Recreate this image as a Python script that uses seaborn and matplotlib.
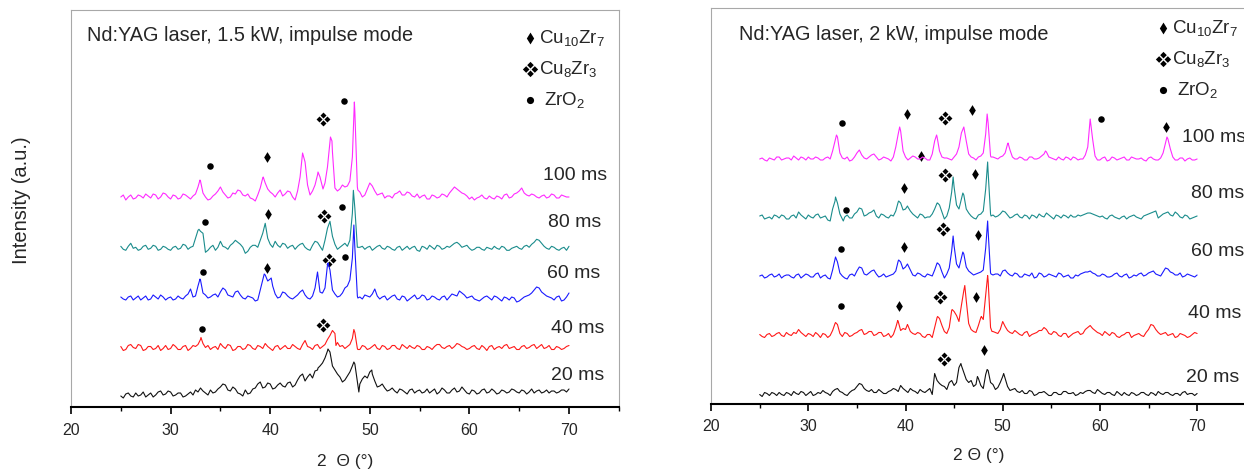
# -*- coding: utf-8 -*-
# XRD patterns of Cu-Zr welds, Nd:YAG laser in impulse mode (1.5 kW / 2 kW)
import numpy as np
import matplotlib.pyplot as plt
import seaborn as sns
from matplotlib.path import Path

sns.set_theme(style="white")
plt.rcParams["font.family"] = ["Liberation Sans", "DejaVu Sans"]
plt.rcParams["mathtext.default"] = "regular"

# ---------------------------------------------------------------
# data (a.u. above each pattern's baseline)
#   *_g   : samples at 25.0, 25.5, ..., 70.0
#   *_m   : samples at 25.25, 25.75, ..., 69.75
#   *_px/py : extra samples on sharp peaks
# ---------------------------------------------------------------
grid_x = np.arange(25.0, 70.01, 0.5)
mid_x = np.arange(25.25, 69.8, 0.5)
pulse_labels = ["20 ms", "40 ms", "60 ms", "80 ms", "100 ms"]

# ---- 1.5 kW ----
l20_g = [0, 2, 0, 3, 1, -1, 3, 1, 5, 2,
         4, 1, 3, 0, 4, 6, 8, 3, 6, 4,
         9, 11, 5, 7, 2, 6, 3, 8, 14, 9,
         12, 8, 13, 9, 14, 11, 20, 15, 22, 25,
         30, 38, 44, 26, 19, 16, 24, 32, 12, 20,
         24, 15, 10, 8, 6, 5, 7, 4, 6, 3,
         6, 4, 3, 7, 4, 6, 3, 8, 5, 6,
         2, 5, 3, 7, 4, 5, 3, 5, 4, 6,
         3, 5, 4, 3, 6, 4, 3, 5, 4, 6,
         7]
l20_m = [-2, 3, -1, 0, 4, 1, -1, 4, 1, 5,
         0, 3, -1, 2, 1, 4, 5, 1, 3, 7,
         12, 6, 9, 3, 0, 2, 7, 12, 8, 13,
         7, 11, 10, 13, 9, 16, 22, 19, 18, 26,
         33, 45, 30, 22, 14, 20, 30, 14, 17, 18,
         22, 9, 12, 5, 8, 3, 6, 2, 7, 5,
         3, 7, 5, 2, 8, 3, 6, 4, 9, 3,
         6, 2, 6, 3, 7, 2, 6, 3, 7, 4,
         6, 2, 7, 5, 3, 6, 5, 3, 6, 4]
l20_px = [44.8, 45.8, 48.4, 48.9, 50.2]
l20_py = [28, 47, 34, 4, 26]

l40_g = [1, -2, 3, -1, 2, -2, 1, -1, -3, 2,
         -1, 1, -2, 2, -1, 1, 8, 0, -2, 1,
         4, -1, 2, -2, 1, -1, 2, -2, 1, 4,
         -1, 1, -2, 2, -1, 1, -2, 7, 0, 2,
         -1, 3, 12, 14, 1, -1, 3, 15, -2, 1,
         -1, 3, -2, 1, -1, 2, -2, 1, 2, -1,
         1, -2, 0, 1, 3, -1, 2, 1, 3, 0,
         -1, 2, -2, 0, 1, -2, 1, 2, -1, 1,
         -2, 2, 0, 3, 1, -1, 2, -2, 0, -1,
         2]
l40_m = [-3, 2, 0, 3, -3, 1, -2, 2, -1, -2,
         3, -2, 1, -3, 2, 3, 4, 2, 0, -2,
         1, 3, -3, 1, -2, 3, -1, 2, -1, 1,
         -3, 2, 0, -1, 3, -1, 3, 1, -2, 3,
         1, 8, 17, 5, 2, 1, 9, -1, 2, -2,
         1, -1, 2, -2, 2, -1, 3, -1, 0, 2,
         -2, 1, -2, 3, 0, 1, -1, 4, 1, -2,
         1, -1, 2, -3, 2, 0, -1, 3, 0, -2,
         1, -1, 2, -1, 3, 0, -2, 1, -2, 1]
l40_px = [33.05, 46.6, 48.4, 48.8]
l40_py = [10, 2, 18, -2]

l60_g = [1, -2, 2, 0, -2, 2, -1, 1, 3, -2,
         1, -1, 0, 2, 9, 2, 18, 3, 1, 4,
         6, 8, 2, 6, 3, -1, 1, -3, 8, 23,
         19, 4, 1, 5, 0, 1, 6, 3, -1, 10,
         6, 10, 28, 4, 2, 10, 18, 50, 1, 3,
         1, 9, -1, 2, 0, 3, -2, 1, -1, 3,
         0, 2, -1, 1, -2, 2, 1, 3, 7, 3,
         1, -1, -3, 1, 0, 2, -1, 1, -2, 0,
         -3, 1, 3, 8, 10, 4, 1, -2, 2, -2,
         5]
l60_m = [-1, 1, -2, 2, 0, -2, 3, -1, 1, 0,
         -2, 2, -1, 4, 1, 12, 5, 0, 3, 1,
         10, 3, 1, 7, 0, 2, 0, -2, 18, 17,
         12, 0, 6, 2, -1, 3, 8, 0, 2, 26,
         5, 33, 8, 1, 5, 12, 40, 2, -1, 2,
         4, 2, 1, -2, 2, -1, 2, -3, 1, -1,
         3, -2, 2, -1, 1, -2, 4, 2, 5, 0,
         2, -2, -1, 2, -2, 1, -3, 0, 1, -4,
         -1, 2, 5, 11, 6, 2, 0, 1, -3, 1]
l60_px = [32.95, 39.4, 40.1, 45.2, 45.8, 48.4, 48.8]
l60_py = [19, 24, 20, 5, 35, 73, 0]

l80_g = [2, -2, 5, 1, -1, 3, 0, 2, -1, 1,
         -2, 2, 0, 3, 1, 10, 17, -4, 1, -2,
         7, 1, 3, 8, 4, -5, 1, 3, 8, 25,
         4, 7, 1, 4, 2, -1, 4, 1, -2, 7,
         2, 8, 27, 4, 1, 5, 8, 40, 1, -1,
         2, 0, 3, -1, 1, -2, 2, 0, -1, 2,
         -3, 1, 3, -1, 2, 0, 1, 5, 4, 2,
         0, -1, 1, -2, 0, 2, -1, 1, -2, 1,
         0, 2, 1, 6, 8, 2, -1, 1, -2, 1,
         2]
l80_m = [-1, 2, 0, -2, 2, -1, 3, -2, 2, -1,
         1, -1, 4, -1, 2, 18, 15, -2, 3, 1,
         2, -1, 5, 6, 1, -3, 3, 1, 15, 10,
         1, 3, 5, 0, 3, 2, 5, -1, 3, 6,
         -2, 20, 12, -1, 3, 2, 35, 1, 2, 1,
         -2, 2, 0, 2, -1, 1, -2, 2, 1, -2,
         2, -1, 1, 3, -1, 2, 3, 6, 1, 3,
         -2, 1, -1, 1, -1, 0, 2, -2, 0, 2,
         -1, 3, 4, 9, 5, 0, 2, -1, 0, -2]
l80_px = [32.85, 48.35]
l80_py = [19, 58]

l100_g = [0, -3, 2, -1, 1, 3, -1, 2, 0, 3,
          -2, 1, -1, 2, -2, 3, 16, 0, -2, 3,
          10, 2, 0, 3, 6, 1, -1, -4, 9, 14,
          5, 0, 7, 3, 5, -3, 20, 35, 2, 12,
          20, 14, 55, 9, 8, 10, 16, 85, 5, 2,
          14, 6, 3, -1, 1, 3, 6, 2, 4, 0,
          -1, 2, -2, 1, 0, 2, 4, 10, 6, 3,
          -2, -3, 0, -1, 1, -2, 0, 2, -1, 3,
          6, 4, 1, 2, -1, 2, 0, 2, -1, 1,
          0]
l100_m = [2, 0, -2, 2, -1, 1, 3, -2, 4, 0,
          2, -2, 3, 0, 1, 10, 4, -3, 1, 6,
          5, -1, 4, 7, 2, 3, -2, 2, 19, 8,
          3, 4, 1, 6, 0, 6, 44, 12, 6, 22,
          10, 30, 45, 6, 12, 11, 40, 10, 0, 8,
          11, 2, 4, 1, -1, 4, 2, 5, 1, 3,
          1, -2, 2, -1, 3, 0, 7, 8, 4, 1,
          0, -1, 2, -2, -1, 1, -2, 3, 0, 4,
          9, 2, 3, 0, 1, -1, 3, -1, 2, 0]
l100_px = [32.95, 39.3, 44.8, 45.3, 46.05, 46.2, 48.45, 48.8]
l100_py = [17, 20, 25, 8, 60, 56, 95, 7]

# ---- 2 kW ----
r20_g = [0, 2, -1, 1, 2, -1, 1, 3, 0, 2,
         1, -1, 2, 4, 1, 3, 6, 2, -1, 4,
         8, 10, 4, 5, 2, 3, 1, 4, 5, 9,
         4, 6, 3, 5, 2, 6, 21, 11, 8, 12,
         9, 27, 22, 12, 8, 16, 6, 24, 10, 7,
         18, 8, 5, 3, 4, 1, 3, 0, 2, 1,
         -1, 2, 0, 3, 1, -1, 2, 3, 4, 1,
         3, 0, 2, -1, 1, 2, -1, 1, 0, 2,
         -1, 1, 3, 0, 2, -1, 1, 2, 0, 1,
         1]
r20_m = [-2, 1, 2, -1, 0, 2, -1, 1, 3, -1,
         3, 0, 1, 2, -1, 5, 3, 0, 2, 5,
         11, 6, 3, 2, 5, 1, 3, 6, 3, 6,
         2, 4, 1, 3, 4, 0, 14, 9, 5, 14,
         12, 29, 15, 14, 10, 9, 20, 12, 5, 12,
         16, 4, 6, 2, 1, 4, -1, 2, 3, -1,
         2, 0, 3, 1, 2, 0, 1, 4, 2, 5,
         1, 2, 0, 3, -1, 0, 2, -1, 2, 0,
         2, -1, 1, 2, 0, 1, -1, 3, 1, -1]
r20_px = [45.7, 47.4, 48.4, 50.1]
r20_py = [31, 18, 25, 21]

r40_g = [1, -2, 2, 0, 3, -1, 1, 3, 6, 1,
         2, -1, 1, 2, -2, 5, 11, -1, 2, 0,
         3, 6, 2, 4, 1, 3, 0, -2, 8, 5,
         6, 4, 1, 2, -2, 1, 8, 17, 4, 8,
         24, 14, 45, 12, 4, 10, 16, 55, 4, 2,
         14, 5, 2, 3, 0, 4, 1, 3, 5, 6,
         1, 3, -1, 2, 0, 3, 1, 6, 10, 5,
         2, 4, 0, 2, -2, 1, 3, 0, 2, -1,
         6, 10, 3, 2, 0, 2, -1, 1, -2, 1,
         2]
r40_m = [-1, 1, -1, 2, 0, 3, 0, 2, 3, -1,
         1, 3, -2, 1, 0, 12, 2, 3, -1, 2,
         5, 1, 4, 0, 3, -1, 2, 1, 14, 7,
         10, 2, 3, -1, 1, -2, 18, 10, 2, 25,
         20, 30, 35, 6, 3, 18, 40, 8, 3, 6,
         9, 3, 5, 1, 3, -1, 2, 5, 8, 2,
         4, 0, 2, -2, 2, 4, 2, 8, 7, 3,
         0, 2, 3, -1, 0, 3, -2, 1, 0, 3,
         11, 6, 1, 3, 1, -2, 2, 0, -1, 3]
r40_px = [32.8, 39.2, 40.2, 43.3, 44.8, 46.1, 47.8, 48.45, 48.9]
r40_py = [13, 15, 11, 19, 26, 50, 19, 60, 4]

r60_g = [0, -2, 1, -1, 2, 0, 1, -2, 2, 0,
         1, -1, 3, 0, -2, 6, 14, 0, -3, 2,
         5, 8, 1, 5, 2, 0, -1, 1, 5, 14,
         9, 6, 0, 2, -1, 1, 6, 11, -2, 8,
         30, 8, 22, 5, 1, 3, 6, 45, 1, 2,
         5, 3, 0, 2, -1, 1, 3, -1, 2, 0,
         1, -1, 2, 0, -2, 1, 2, 4, 5, 2,
         0, 1, -1, 2, 0, 1, -2, 1, 2, 0,
         3, 5, 1, 4, 7, 3, 1, -1, 2, 0,
         1]
r60_m = [1, -1, 2, 0, -2, 1, -1, 1, -2, 2,
         -1, 2, -2, 1, -3, 17, 3, -2, 1, 0,
         9, 2, 3, 6, -1, 2, 0, 2, 15, 7,
         11, 1, 3, 0, 2, 0, 13, 4, 2, 25,
         12, 18, 9, 3, 2, 4, 28, 3, 2, 0,
         6, 1, 3, -1, 2, 0, -2, 3, -1, 2,
         0, 3, -1, 1, -2, 0, 3, 4, 3, 0,
         2, -1, 0, 3, -1, 2, -1, 0, 3, 1,
         4, 2, 0, 8, 4, 1, 3, 0, 1, -1]
r60_px = [32.8, 39.3, 40.2, 43.3, 44.9, 45.9, 48.45, 48.8]
r60_py = [19, 16, 12, 13, 40, 24, 55, 2]

r80_g = [1, -2, 0, 2, -1, 1, -2, 2, 5, 0,
         2, -1, 3, 0, -3, 8, 14, -2, 2, -1,
         5, 8, 2, 5, 1, 3, 0, 2, 6, 14,
         8, 6, 1, 3, -1, 0, 8, 12, -2, 9,
         30, 8, 22, 4, -1, 2, 6, 45, 2, 1,
         6, 2, 0, 3, -1, 1, 2, -1, 1, 4,
         0, 2, -1, 1, 2, 0, 1, 3, 4, 2,
         0, -1, 1, 0, -2, 1, 0, 2, -1, 1,
         3, 5, -1, 3, 5, 1, 3, -1, 1, -1,
         1]
r80_m = [2, -1, -2, 1, 2, -2, 1, -1, 2, -2,
         0, 2, -1, 1, -4, 16, 3, 0, -1, 3,
         9, 1, 4, 7, -1, 2, -1, 1, 15, 7,
         10, 3, -1, 2, 0, 3, 14, 5, 1, 25,
         12, 18, 8, 1, -2, 3, 28, 3, 0, 3,
         5, -1, 2, 0, 2, -2, 1, 3, 0, 2,
         -2, 1, 2, -1, 0, 2, 2, 4, 3, 1,
         1, -2, 2, -1, 0, -2, 1, 0, -2, 2,
         4, 6, 1, 4, 2, 5, 0, 2, -2, 0]
r80_px = [32.8, 33.6, 39.3, 40.2, 43.3, 44.9, 45.9, 48.45, 48.8]
r80_py = [20, -4, 16, 11, 14, 40, 24, 55, 1]

r100_g = [0, -1, 1, -1, 2, 0, 1, 3, -1, 1,
          2, 0, 1, -1, 2, 8, 22, 1, 2, -1,
          6, 4, 0, 4, 2, 0, 1, -2, 12, 28,
          2, 1, 2, 0, 1, -1, 18, 8, 1, 0,
          2, 12, 32, 5, 1, 2, 6, 36, 2, 0,
          3, 15, 2, 0, 1, -1, 2, 0, 3, 7,
          1, -1, 0, 2, -1, 1, 0, 4, 40, 3,
          -1, 2, -1, 1, 0, 2, -1, 1, 0, -1,
          1, 0, -1, 6, 20, 2, -1, 1, 0, -1,
          0]
r100_m = [1, -2, 0, 2, -1, 1, -1, 1, 2, -1,
          0, 2, -1, 1, 0, 18, 6, 0, -2, 2,
          9, 1, 2, 5, -1, 2, 0, 2, 25, 8,
          -1, 3, 0, 2, -1, 5, 22, 2, 1, -1,
          5, 26, 18, 2, -1, 3, 25, 3, 1, 2,
          6, 9, 0, 2, -1, 2, 0, 1, 5, 2,
          0, 2, -1, 1, 2, -1, 0, 12, 20, -1,
          1, -2, 2, -1, 1, -1, 2, 0, 1, -2,
          2, -1, 1, 16, 10, -1, 1, -2, 1, -1]
r100_px = [32.9, 39.4, 43.2, 48.4, 48.8, 50.55, 54.4, 66.9]
r100_py = [24, 32, 24, 45, 2, 16, 8, 22]

# vertical stacking of the patterns (a.u.)
left_offsets = [11, 59.5, 109, 158.7, 210]
right_offsets = [9, 68, 127.5, 186.5, 244.5]

# phase marks (2theta, a.u.)
left_cu10zr7_x = [39.7, 39.75, 39.7]
left_cu10zr7_y = [250, 193, 139]
left_cu8zr3_x = [45.3, 45.4, 45.9, 45.3]
left_cu8zr3_y = [288, 191, 147, 82]
left_zro2_x = [33.95, 47.4, 33.5, 47.2, 33.3, 47.5, 33.2]
left_zro2_y = [241, 306, 185, 200, 135, 150, 78]

right_cu10zr7_x = [40.2, 46.8, 41.6, 66.8, 39.85, 47.2, 39.8, 47.5, 39.3, 47.3, 48.1]
right_cu10zr7_y = [289.5, 293.5, 248, 277, 216, 229.5, 157, 169, 97.5, 107, 54]
right_cu8zr3_x = [44.1, 44.1, 43.9, 43.6, 44.0]
right_cu8zr3_y = [286, 228.5, 175, 107, 45]
right_zro2_x = [33.5, 60.1, 33.85, 33.4, 33.4]
right_zro2_y = [281, 285, 193.5, 155, 97.5]

phase_names = ["Cu$_{10}$Zr$_7$", "Cu$_8$Zr$_3$", " ZrO$_2$"]

# ---------------------------------------------------------------
# styles
# ---------------------------------------------------------------
colors = ["#111111", "#ff1a1a", "#1a1aff", "#1a8c8c", "#ff2bff"]
spine_gray = "#a8a8a8"

# diamond, four-diamond cluster
DIAMOND = Path([(0, 1), (0.62, 0), (0, -1), (-0.62, 0), (0, 1)],
               [Path.MOVETO, Path.LINETO, Path.LINETO, Path.LINETO, Path.CLOSEPOLY])
_verts, _codes = [], []
for cx, cy in [(0, 0.55), (0.55, 0), (0, -0.55), (-0.55, 0)]:
    h = 0.42
    _verts += [(cx, cy + h), (cx + h, cy), (cx, cy - h), (cx - h, cy), (cx, cy + h)]
    _codes += [Path.MOVETO, Path.LINETO, Path.LINETO, Path.LINETO, Path.CLOSEPOLY]
CLUSTER = Path(_verts, _codes)


def merge_points(g, m, extra_x, extra_y):
    """grid + mid samples + peak samples, sorted by 2theta"""
    pts = dict(zip(np.round(grid_x, 2), g))
    pts.update(zip(np.round(mid_x, 2), m))
    pts.update(zip(extra_x, extra_y))
    xs = sorted(pts)
    return np.array(xs, dtype=float), np.array([pts[k] for k in xs], dtype=float)


def plot_panel(ax, traces, offsets, marks, title, title_xy, label_x, label_y,
               ylim, xlabel, xlabelpad, legend_anchor):
    for (g, m, px, py), off, c in zip(traces, offsets, colors):
        xs, ys = merge_points(g, m, px, py)
        sns.lineplot(x=xs, y=ys + off, ax=ax, color=c, linewidth=0.8,
                     estimator=None, sort=False)

    handles = []
    for (mx, my), mk, size in zip(marks, [DIAMOND, CLUSTER, "o"], [60, 100, 22]):
        sns.scatterplot(x=mx, y=my, ax=ax, marker=mk, s=size, color="black", linewidth=0)
        handles.append(ax.collections[-1])

    for lab, lx, ly in zip(pulse_labels, label_x, label_y):
        ax.text(lx, ly, lab, fontsize=14, va="baseline", ha="left", clip_on=False)

    ax.text(title_xy[0], title_xy[1], title, fontsize=14.3, va="baseline", ha="left")

    ax.legend(handles, phase_names, loc="upper right", bbox_to_anchor=legend_anchor,
              frameon=False, fontsize=13.5, handlelength=0.6, handletextpad=0.2,
              labelspacing=0.6, borderaxespad=0, borderpad=0,
              scatterpoints=1, markerscale=1.1)

    ax.set_xlim(20, 75)
    ax.set_ylim(*ylim)
    ax.set_xticks(np.arange(20, 71, 10))
    ax.set_xticks(np.arange(25, 76, 5), minor=True)
    ax.set_yticks([])
    ax.tick_params(axis="x", which="major", direction="out", length=4.8, width=1.2,
                   labelsize=11.5, pad=6.5, bottom=True, color="black")
    ax.tick_params(axis="x", which="minor", direction="out", length=3, width=1.0,
                   bottom=True, color="black")
    ax.set_xlabel(xlabel, fontsize=12.5, labelpad=xlabelpad)
    ax.set_ylabel("")
    for side in ["left", "top", "right"]:
        ax.spines[side].set_color(spine_gray)
        ax.spines[side].set_linewidth(0.8)
    ax.spines["bottom"].set_color("black")
    ax.spines["bottom"].set_linewidth(1.5)


def main():
    fig = plt.figure(figsize=(12.44, 4.70), dpi=100, facecolor="w")
    ax_l = fig.add_axes([71 / 1244, 63 / 470, 547.8 / 1244, 397 / 470])
    ax_r = fig.add_axes([711.1 / 1244, 66.5 / 470, 534.6 / 1244, 395.5 / 470])

    plot_panel(
        ax_l,
        [(l20_g, l20_m, l20_px, l20_py), (l40_g, l40_m, l40_px, l40_py),
         (l60_g, l60_m, l60_px, l60_py), (l80_g, l80_m, l80_px, l80_py),
         (l100_g, l100_m, l100_px, l100_py)],
        left_offsets,
        [(left_cu10zr7_x, left_cu10zr7_y), (left_cu8zr3_x, left_cu8zr3_y),
         (left_zro2_x, left_zro2_y)],
        "Nd:YAG laser, 1.5 kW, impulse mode", (21.6, 366),
        [68.2, 68.2, 67.8, 67.85, 67.4], [27, 73.7, 129.3, 180.3, 227],
        (0, 397), "2  Θ (°)", 11.5, (0.975, 0.955),
    )
    plot_panel(
        ax_r,
        [(r20_g, r20_m, r20_px, r20_py), (r40_g, r40_m, r40_px, r40_py),
         (r60_g, r60_m, r60_px, r60_py), (r80_g, r80_m, r80_px, r80_py),
         (r100_g, r100_m, r100_px, r100_py)],
        right_offsets,
        [(right_cu10zr7_x, right_cu10zr7_y), (right_cu8zr3_x, right_cu8zr3_y),
         (right_zro2_x, right_zro2_y)],
        "Nd:YAG laser, 2 kW, impulse mode", (22.9, 363),
        [68.9, 69.1, 69.4, 69.4, 68.4], [22, 86, 147, 205, 262],
        (0, 395.5), "2 Θ (°)", 10, (0.985, 0.975),
    )

    ax_l.set_ylabel("Intensity (a.u.)", fontsize=14.5)
    ax_l.yaxis.set_label_coords(-0.073, 0.521)

    fig.savefig("out.png", dpi=100, facecolor="w")


if __name__ == "__main__":
    main()
